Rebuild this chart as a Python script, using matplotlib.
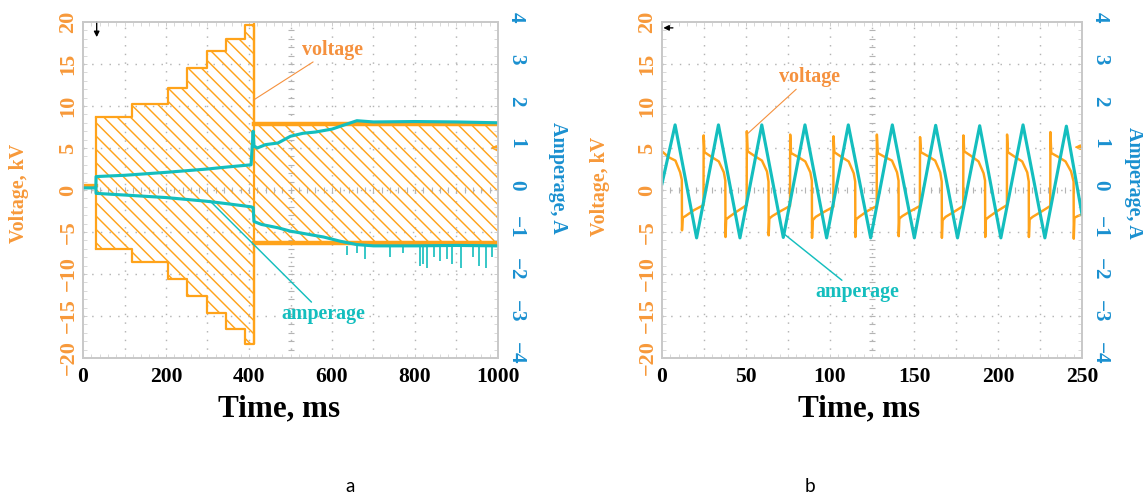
import numpy as np
import matplotlib.pyplot as plt
import matplotlib.transforms as mtransforms
from matplotlib.ticker import MultipleLocator

plt.rcParams['font.family'] = ['Liberation Serif', 'DejaVu Serif']
plt.rcParams['font.weight'] = 'bold'
plt.rcParams['axes.labelweight'] = 'bold'
plt.rcParams['hatch.linewidth'] = 1.3
plt.rcParams['hatch.color'] = '#FFA31A'

orange = '#FFA31A'
cyan = '#14BEBE'
lbl_orange = '#F7993A'
lbl_blue = '#1A90D0'
ann_orange = '#F5913E'
frame_c = '#C8C8C8'
grid_c = '#B4B4B4'

# ---------------- panel a: stepped voltage (kV) ----------------
va_edges = [31, 118, 206, 250, 298, 345, 390, 411, 1000]
va_up = [8.7, 10.2, 12.2, 14.5, 16.5, 18.0, 19.7, 7.8]
va_lo = [-7.0, -8.6, -10.6, -12.6, -14.7, -16.6, -18.3, -6.3]
va_peak = 20.0
va_pre_t = [0, 31]
va_pre = [0.6, 0.6]

# panel a: amperage envelopes (A)
ia_up_t = [0, 31, 31.5, 100, 200, 300, 350, 405, 410, 412, 420, 440, 470, 500,
           530, 560, 600, 630, 660, 700, 800, 900, 1000]
ia_up = [0.05, 0.05, 0.32, 0.35, 0.42, 0.50, 0.55, 0.60, 1.40, 1.05, 1.00, 1.08,
         1.12, 1.28, 1.35, 1.38, 1.45, 1.55, 1.65, 1.62, 1.63, 1.62, 1.60]
ia_lo_t = [31, 31.5, 100, 200, 300, 350, 405, 410, 412, 430, 470, 500, 540, 580,
           620, 660, 700, 800, 900, 1000]
ia_lo = [0.05, -0.08, -0.12, -0.18, -0.27, -0.33, -0.40, -0.42, -0.75, -0.82,
         -0.90, -0.98, -1.05, -1.12, -1.22, -1.30, -1.33, -1.33, -1.32, -1.33]
spike_t = [635, 660, 680, 740, 770, 812, 820, 828, 845, 860, 876, 890, 912, 940,
           955, 972, 985]
spike_lo = [-1.55, -1.5, -1.65, -1.6, -1.5, -1.8, -1.75, -1.85, -1.6, -1.7, -1.65,
            -1.75, -1.85, -1.6, -1.8, -1.85, -1.6]
spike_base = -1.33

# ---------------- panel b: periodic waveforms ----------------
vb_t = [0, 4.0, 8.0, 10.8, 11.8, 11.9, 12.3, 14.0, 19.0, 24.7,
        24.8, 25.3, 29.8, 33.8, 36.8, 37.7, 37.8, 38.2, 40.0, 45.0, 50.4,
        50.5, 51.0, 55.5, 59.5, 62.5, 63.4, 63.5, 63.9, 65.7, 70.7, 76.2,
        76.3, 76.8, 81.3, 85.3, 88.3, 89.2, 89.3, 89.7, 91.5, 96.5, 102.0,
        102.1, 102.6, 107.1, 111.1, 114.1, 115.0, 115.1, 115.5, 117.3, 122.3, 127.8,
        127.9, 128.4, 132.9, 136.9, 139.9, 140.8, 140.9, 141.3, 143.1, 148.1, 153.5,
        153.6, 154.1, 158.6, 162.6, 165.6, 166.5, 166.6, 167.0, 168.8, 173.8, 179.3,
        179.4, 179.9, 184.4, 188.4, 191.4, 192.3, 192.4, 192.8, 194.6, 199.6, 205.3,
        205.4, 205.9, 210.4, 214.4, 217.4, 218.3, 218.4, 218.8, 220.6, 225.6, 231.1,
        231.2, 231.7, 236.2, 240.2, 243.5, 245.0, 245.1, 245.5, 247.5, 250.0]
vb = [4.6, 3.9, 3.5, 2.1, 1.2, -4.8, -3.3, -3.1, -2.4, -1.8,
      6.5, 4.5, 3.9, 3.4, 2.1, 1.1, -5.6, -3.5, -3.2, -2.5, -1.8,
      7.0, 4.6, 4.0, 3.5, 2.2, 1.0, -5.4, -3.4, -3.1, -2.5, -1.9,
      6.6, 4.4, 3.9, 3.4, 2.1, 1.1, -5.7, -3.6, -3.2, -2.6, -2.0,
      6.4, 4.5, 3.9, 3.4, 2.0, 1.0, -5.6, -3.5, -3.2, -2.5, -1.9,
      6.6, 4.4, 3.9, 3.5, 2.1, 1.1, -5.5, -3.4, -3.1, -2.5, -1.9,
      6.3, 4.5, 4.0, 3.5, 2.1, 1.0, -5.7, -3.6, -3.2, -2.6, -1.9,
      6.5, 4.6, 4.0, 3.4, 2.0, 1.1, -5.6, -3.5, -3.2, -2.5, -1.8,
      6.6, 4.5, 3.9, 3.4, 2.1, 1.0, -5.6, -3.5, -3.2, -2.6, -1.9,
      6.9, 4.4, 3.9, 3.4, 2.2, 1.0, -5.8, -3.3, -3.1, -2.9]
ib_t = [0, 7.8, 20.6, 33.6, 46.4, 59.4, 72.2, 85.1, 98.0, 110.9, 124.2, 137.1,
        150.2, 162.9, 175.9, 189.1, 201.7, 214.9, 227.9, 240.7, 250]
ib = [0.15, 1.55, -1.14, 1.55, -1.14, 1.55, -1.13, 1.55, -1.14, 1.55, -1.14, 1.55,
      -1.14, 1.54, -1.14, 1.53, -1.14, 1.55, -1.14, 1.52, -0.58]

xticks_a = [0, 200, 400, 600, 800, 1000]
xticks_b = [0, 50, 100, 150, 200, 250]
vticks = [-20, -15, -10, -5, 0, 5, 10, 15, 20]
iticks = [-4, -3, -2, -1, 0, 1, 2, 3, 4]

fig = plt.figure(figsize=(1143 / 80, 494 / 80), dpi=80)
ax_a = fig.add_axes([83 / 1143, 1 - 358 / 494, 415 / 1143, 336 / 494])
ax_b = fig.add_axes([662 / 1143, 1 - 358 / 494, 420 / 1143, 336 / 494])


def style(ax, xmax, xticks, grid_step, minor_x, lab_pos):
    ax.set_xlim(0, xmax)
    ax.set_ylim(-20, 20)
    ax.set_xticks(xticks)
    ax.set_yticks(vticks, [str(v).replace('-', '\u2212') for v in vticks],
                  rotation=90, va='center')
    ax.xaxis.set_minor_locator(MultipleLocator(minor_x))
    ax.yaxis.set_minor_locator(MultipleLocator(1))
    ax.tick_params(which='both', direction='in', length=4, color=frame_c,
                   top=True)
    ax.tick_params(axis='x', labelsize=19.5, pad=8)
    ax.tick_params(axis='y', labelsize=20, pad=4, labelcolor=lbl_orange)
    for s in ax.spines.values():
        s.set_color(frame_c)
        s.set_linewidth(1.5)
    # dotted grid
    for g in np.arange(grid_step, xmax, grid_step):
        ax.axvline(g, color=grid_c, lw=1.3, ls=(0, (1, 5)), zorder=0.5)
    for g in range(-15, 20, 5):
        ax.axhline(g, color=grid_c, lw=1.3, ls=(0, (1, 5)), zorder=0.5)
    # oscilloscope centre cross
    cx = np.arange(minor_x, xmax, minor_x)
    ax.plot(cx, np.zeros(len(cx)), ls='none', marker='|', ms=5, color=grid_c,
            zorder=0.6)
    ax.plot(np.full(39, xmax / 2), np.arange(-19, 20), ls='none', marker='_',
            ms=5, color=grid_c, zorder=0.6)
    ax.set_xlabel('Time, ms', fontsize=28, va='center')
    ax.xaxis.set_label_coords(lab_pos[0], -0.152)
    ax.set_ylabel('Voltage, kV', fontsize=18, color=lbl_orange, va='center')
    ax.yaxis.set_label_coords(lab_pos[1], lab_pos[2])

    ax2 = ax.twinx()
    ax2.set_ylim(-4, 4)
    ax2.set_yticks(iticks, [str(v).replace('-', '\u2212') for v in iticks],
                   rotation=-90, va='center')
    ax2.yaxis.set_minor_locator(MultipleLocator(0.2))
    ax2.tick_params(which='both', direction='in', length=4, color=frame_c)
    ax2.tick_params(axis='y', labelsize=19, pad=7, labelcolor=lbl_blue)
    for s in ax2.spines.values():
        s.set_color(frame_c)
        s.set_linewidth(1.5)
    ax2.set_ylabel('Amperage, A', fontsize=18, color=lbl_blue, rotation=-90,
                   va='center')
    ax2.yaxis.set_label_coords(lab_pos[3], lab_pos[4])
    # right-hand labels sit a little above their ticks
    shift = mtransforms.ScaledTranslation(0, 5 / 80, fig.dpi_scale_trans)
    for lbl in ax2.get_yticklabels():
        lbl.set_transform(lbl.get_transform() + shift)
    return ax2


ax2_a = style(ax_a, 1000, xticks_a, 100, 20, (0.472, -0.154, 0.49, 1.145, 0.535))
ax2_b = style(ax_b, 250, xticks_b, 25, 5, (0.469, -0.148, 0.51, 1.124, 0.52))

# ---- panel a traces ----
ax_a.fill_between(va_edges, va_lo + [va_lo[-1]], va_up + [va_up[-1]], step='post',
                  facecolor='none', edgecolor=orange, hatch='\\\\', linewidth=0,
                  zorder=1)
ax_a.step(va_edges, va_up + [va_up[-1]], where='post', color=orange, lw=2, zorder=2)
ax_a.step(va_edges, va_lo + [va_lo[-1]], where='post', color=orange, lw=2, zorder=2)
ax_a.plot(va_edges[-2:], [va_up[-1]] * 2, color=orange, lw=4, zorder=2)
ax_a.plot(va_edges[-2:], [va_lo[-1]] * 2, color=orange, lw=4, zorder=2)
ax_a.vlines(va_edges[0], va_lo[0], va_up[0], color=orange, lw=2, zorder=2)
ax_a.vlines(va_edges[-2], va_lo[-2], va_peak, color=orange, lw=2, zorder=2)
ax_a.plot(va_pre_t, va_pre, color=orange, lw=3, zorder=2)

ax2_a.plot(ia_up_t, ia_up, color=cyan, lw=2.8)
ax2_a.plot(ia_lo_t, ia_lo, color=cyan, lw=2.8)
ax2_a.vlines(spike_t, spike_lo, spike_base, color=cyan, lw=1.5)

# ---- panel b traces ----
ax_b.plot(vb_t, vb, color=orange, lw=2.2, zorder=2)
ax2_b.plot(ib_t, ib, color=cyan, lw=2.8)

# annotations
ax2_a.annotate('voltage', xy=(410.6, 10.7 / 5), xytext=(527, 16.7 / 5),
               color=ann_orange, fontsize=18, ha='left', va='center',
               arrowprops=dict(arrowstyle='-', color=ann_orange, lw=1, shrinkA=0, shrinkB=0))
ax2_a.annotate('amperage', xy=(305, -1.25 / 5), xytext=(479, -14.8 / 5),
               color=cyan, fontsize=18, ha='left', va='center',
               arrowprops=dict(arrowstyle='-', color=cyan, lw=1.3, shrinkA=0, shrinkB=0))
ax2_b.annotate('voltage', xy=(51.2, 6.75 / 5), xytext=(69.7, 13.45 / 5),
               color=ann_orange, fontsize=18, ha='left', va='center',
               arrowprops=dict(arrowstyle='-', color=ann_orange, lw=1, shrinkA=0, shrinkB=0))
ax2_b.annotate('amperage', xy=(71.2, -5.0 / 5), xytext=(91.2, -12.2 / 5),
               color=cyan, fontsize=18, ha='left', va='center',
               arrowprops=dict(arrowstyle='-', color=cyan, lw=1.3, shrinkA=0, shrinkB=0))

# trigger markers
arrow = dict(arrowstyle='-|>', mutation_scale=10, lw=1.2, shrinkA=0, shrinkB=0)
ax_a.annotate('', xy=(33, 18.2), xytext=(33, 20), arrowprops=dict(arrow, color='black'))
ax_a.annotate('', xy=(982, 5.0), xytext=(1000, 5.0), arrowprops=dict(arrow, color=orange))
ax_b.annotate('', xy=(0.8, 19.3), xytext=(6.5, 19.3), arrowprops=dict(arrow, color='black'))
ax_b.annotate('', xy=(245.5, 5.1), xytext=(250, 5.1), arrowprops=dict(arrow, color=orange))

fig.text(350 / 1143, 1 - 487 / 494, 'a', ha='center', va='center',
         family='Lato', weight='normal', fontsize=17)
fig.text(810 / 1143, 1 - 487 / 494, 'b', ha='center', va='center',
         family='Lato', weight='normal', fontsize=17)

fig.savefig('out.png', dpi=80)
